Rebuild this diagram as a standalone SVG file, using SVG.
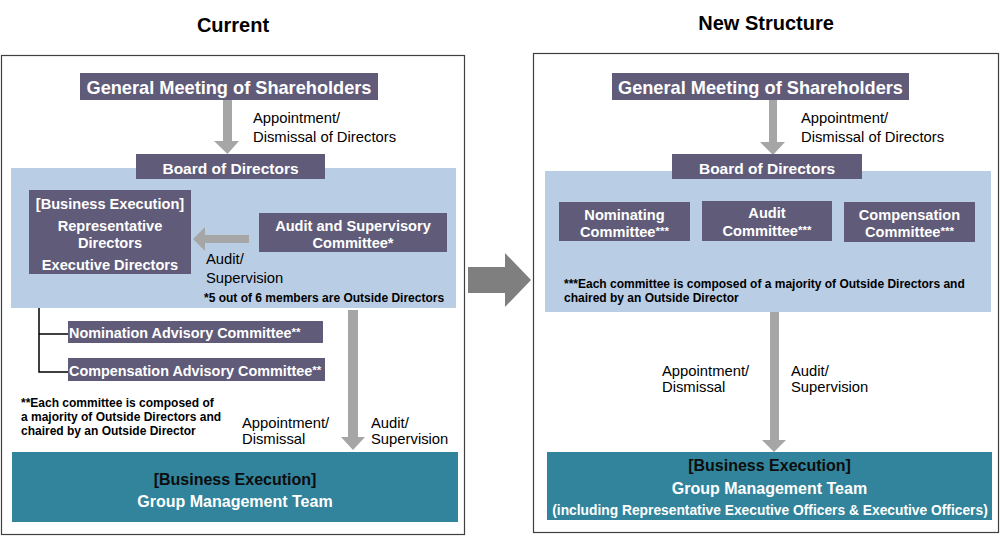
<svg xmlns="http://www.w3.org/2000/svg" width="1001" height="538" viewBox="0 0 1001 538">
<style>
text{font-family:"Liberation Sans",Arial,sans-serif}
.panel{fill:#fff;stroke:#404040;stroke-width:1.2}
.dark{fill:#5F5B79}
.blue{fill:#B9CDE5}
.teal{fill:#31849B}
.arr{fill:#A6A6A6}
.title{font-size:20px;font-weight:bold;fill:#000;text-anchor:middle}
.wb{fill:#fff;font-weight:bold;text-anchor:middle;font-size:14.6px}
.lbl{font-size:14.8px;fill:#000}
.note{font-size:12px;font-weight:bold;fill:#000}
.dk{fill:#0d0d0d;font-weight:bold;text-anchor:middle}
.ast{font-size:11.5px}
</style>
<rect width="1001" height="538" fill="#fff"/>
<text class="title" x="233" y="32">Current</text>
<text class="title" x="766" y="30">New Structure</text>
<rect class="panel" x="1.5" y="55.5" width="463" height="479"/>
<rect class="panel" x="533.5" y="53.5" width="465" height="479"/>

<g id="l-board-area">
  <rect class="blue" x="11" y="168" width="445" height="140"/>
</g>
<g id="r-board-area">
  <rect class="blue" x="545" y="171" width="446" height="141"/>
</g>

<g id="connectors">
  <polygon class="arr" points="223,100 232,100 232,141 239,141 227.5,154 214,141 223,141"/>
  <polygon class="arr" points="249,235 249,243 205,243 205,251 193,239 205,227 205,235"/>
  <polygon class="arr" points="348,310 358,310 358,437 365,437 353,450 341,437 348,437"/>
  <polyline points="39,308 39,372 68,372" fill="none" stroke="#000" stroke-width="1.5"/>
  <line x1="39" y1="334" x2="68" y2="334" stroke="#000" stroke-width="1.5"/>
  <polygon fill="#7F7F7F" points="468,267 505,267 505,253 531,280 505,307 505,293 468,293"/>
  <polygon class="arr" points="769,100 777,100 777,142 785,142 773,155 760,142 769,142"/>
  <polygon class="arr" points="770,312 779,312 779,440 786,440 774,452 762,440 770,440"/>
</g>

<g id="left-labels">
  <text class="lbl" x="253" y="123">Appointment/</text>
  <text class="lbl" x="253" y="142">Dismissal of Directors</text>
  <text class="lbl" x="206" y="264">Audit/</text>
  <text class="lbl" x="206" y="283">Supervision</text>
  <text class="lbl" x="242" y="428">Appointment/</text>
  <text class="lbl" x="242" y="444">Dismissal</text>
  <text class="lbl" x="371" y="428">Audit/</text>
  <text class="lbl" x="371" y="444">Supervision</text>
</g>

<g id="l-gms">
  <rect class="dark" x="80" y="73" width="298" height="27"/>
  <text class="wb" x="229" y="94" style="font-size:18.2px">General Meeting of Shareholders</text>
</g>
<g id="l-board">
  <rect class="dark" x="136" y="154" width="189" height="25"/>
  <text class="wb" x="230.5" y="173.5" style="font-size:15.5px">Board of Directors</text>
</g>
<g id="l-exec">
  <rect class="dark" x="29" y="190" width="162" height="84"/>
  <text class="wb" x="110" y="209">[Business Execution]</text>
  <text class="wb" x="110" y="231">Representative</text>
  <text class="wb" x="110" y="248">Directors</text>
  <text class="wb" x="110" y="270">Executive Directors</text>
</g>
<g id="l-audit">
  <rect class="dark" x="259" y="213" width="188" height="39"/>
  <text class="wb" x="353" y="231">Audit and Supervisory</text>
  <text class="wb" x="353" y="248">Committee*</text>
</g>
<text class="note" x="204" y="302">*5 out of 6 members are Outside Directors</text>
<g id="l-nom">
  <rect class="dark" x="68" y="321" width="255" height="22"/>
  <text class="wb" x="69" y="338" style="text-anchor:start;font-size:14.4px">Nomination Advisory Committee<tspan class="ast" dy="-2">**</tspan></text>
</g>
<g id="l-comp">
  <rect class="dark" x="68" y="358" width="257" height="23"/>
  <text class="wb" x="69" y="376" style="text-anchor:start;font-size:14.4px">Compensation Advisory Committee<tspan class="ast" dy="-2">**</tspan></text>
</g>
<text class="note" x="21" y="407">**Each committee is composed of</text>
<text class="note" x="21" y="421">a majority of Outside Directors and</text>
<text class="note" x="21" y="435">chaired by an Outside Director</text>
<g id="l-gmt">
  <rect class="teal" x="12" y="452" width="446" height="70"/>
  <text class="dk" x="235" y="485" font-size="16">[Business Execution]</text>
  <text class="wb" x="235" y="507" style="font-size:16px">Group Management Team</text>
</g>

<g id="right-labels">
  <text class="lbl" x="801" y="123">Appointment/</text>
  <text class="lbl" x="801" y="142">Dismissal of Directors</text>
  <text class="lbl" x="662" y="376">Appointment/</text>
  <text class="lbl" x="662" y="392">Dismissal</text>
  <text class="lbl" x="791" y="376">Audit/</text>
  <text class="lbl" x="791" y="392">Supervision</text>
</g>
<g id="r-gms">
  <rect class="dark" x="612" y="73" width="297" height="27"/>
  <text class="wb" x="760.5" y="94" style="font-size:18.2px">General Meeting of Shareholders</text>
</g>
<g id="r-board">
  <rect class="dark" x="672" y="154" width="190" height="25"/>
  <text class="wb" x="767" y="173.5" style="font-size:15.5px">Board of Directors</text>
</g>
<g id="r-nom">
  <rect class="dark" x="559" y="202" width="131" height="39"/>
  <text class="wb" x="624.5" y="220">Nominating</text>
  <text class="wb" x="624.5" y="237">Committee<tspan class="ast" dy="-2">***</tspan></text>
</g>
<g id="r-audit">
  <rect class="dark" x="702" y="201" width="130" height="40"/>
  <text class="wb" x="767" y="218">Audit</text>
  <text class="wb" x="767" y="236">Committee<tspan class="ast" dy="-2">***</tspan></text>
</g>
<g id="r-comp">
  <rect class="dark" x="844" y="202" width="131" height="40"/>
  <text class="wb" x="909.5" y="220">Compensation</text>
  <text class="wb" x="909.5" y="237">Committee<tspan class="ast" dy="-2">***</tspan></text>
</g>
<text class="note" x="564" y="288">***Each committee is composed of a majority of Outside Directors and</text>
<text class="note" x="564" y="302">chaired by an Outside Director</text>
<g id="r-gmt">
  <rect class="teal" x="547" y="452" width="445" height="68"/>
  <text class="dk" x="769.5" y="471" font-size="16">[Business Execution]</text>
  <text class="wb" x="769.5" y="494" style="font-size:16px">Group Management Team</text>
  <text class="wb" x="770" y="515" style="font-size:13.8px">(including Representative Executive Officers &amp; Executive Officers)</text>
</g>
</svg>
